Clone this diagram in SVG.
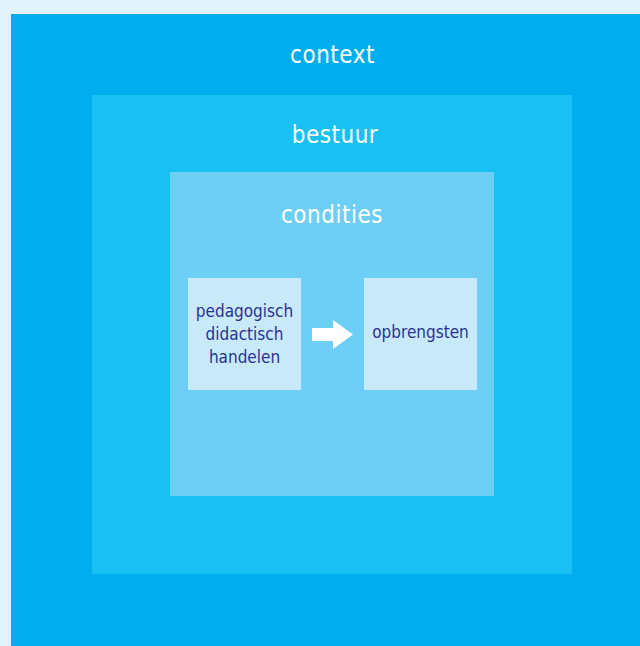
<svg xmlns="http://www.w3.org/2000/svg" width="640" height="646" viewBox="0 0 640 646">
<style>
.lbl{font-family:"DejaVu Sans Condensed","DejaVu Sans","Liberation Sans",sans-serif;font-stretch:condensed;fill:#ffffff;font-size:24px;text-anchor:middle;letter-spacing:0.5px}
.in{font-family:"DejaVu Sans Condensed","DejaVu Sans","Liberation Sans",sans-serif;font-stretch:condensed;fill:#2e3192;font-size:17px;text-anchor:middle}
</style>
<rect x="0" y="0" width="640" height="646" fill="#e0f2fa"/>
<g id="context">
<rect x="11" y="14" width="629" height="632" fill="#00aeef"/>
<text class="lbl" x="332.5" y="63">context</text>
</g>
<g id="bestuur">
<rect x="92" y="95" width="480" height="479" fill="#18c1f1"/>
<text class="lbl" x="335" y="143">bestuur</text>
</g>
<g id="condities">
<rect x="170" y="172" width="324" height="324" fill="#6dcff6"/>
<text class="lbl" x="332" y="223">condities</text>
</g>
<g id="pedagogisch">
<rect x="188" y="278" width="113" height="112" fill="#c7e9f9"/>
<text class="in" x="244.5" y="317">pedagogisch</text>
<text class="in" x="244.5" y="340">didactisch</text>
<text class="in" x="244.5" y="363">handelen</text>
</g>
<g id="opbrengsten">
<rect x="364" y="278" width="113" height="112" fill="#c7e9f9"/>
<text class="in" x="420.5" y="338">opbrengsten</text>
</g>
<g id="connectors">
<polygon points="312,328 333,328 333,320 353,334.5 333,349 333,341 312,341" fill="#ffffff"/>
</g>
</svg>
